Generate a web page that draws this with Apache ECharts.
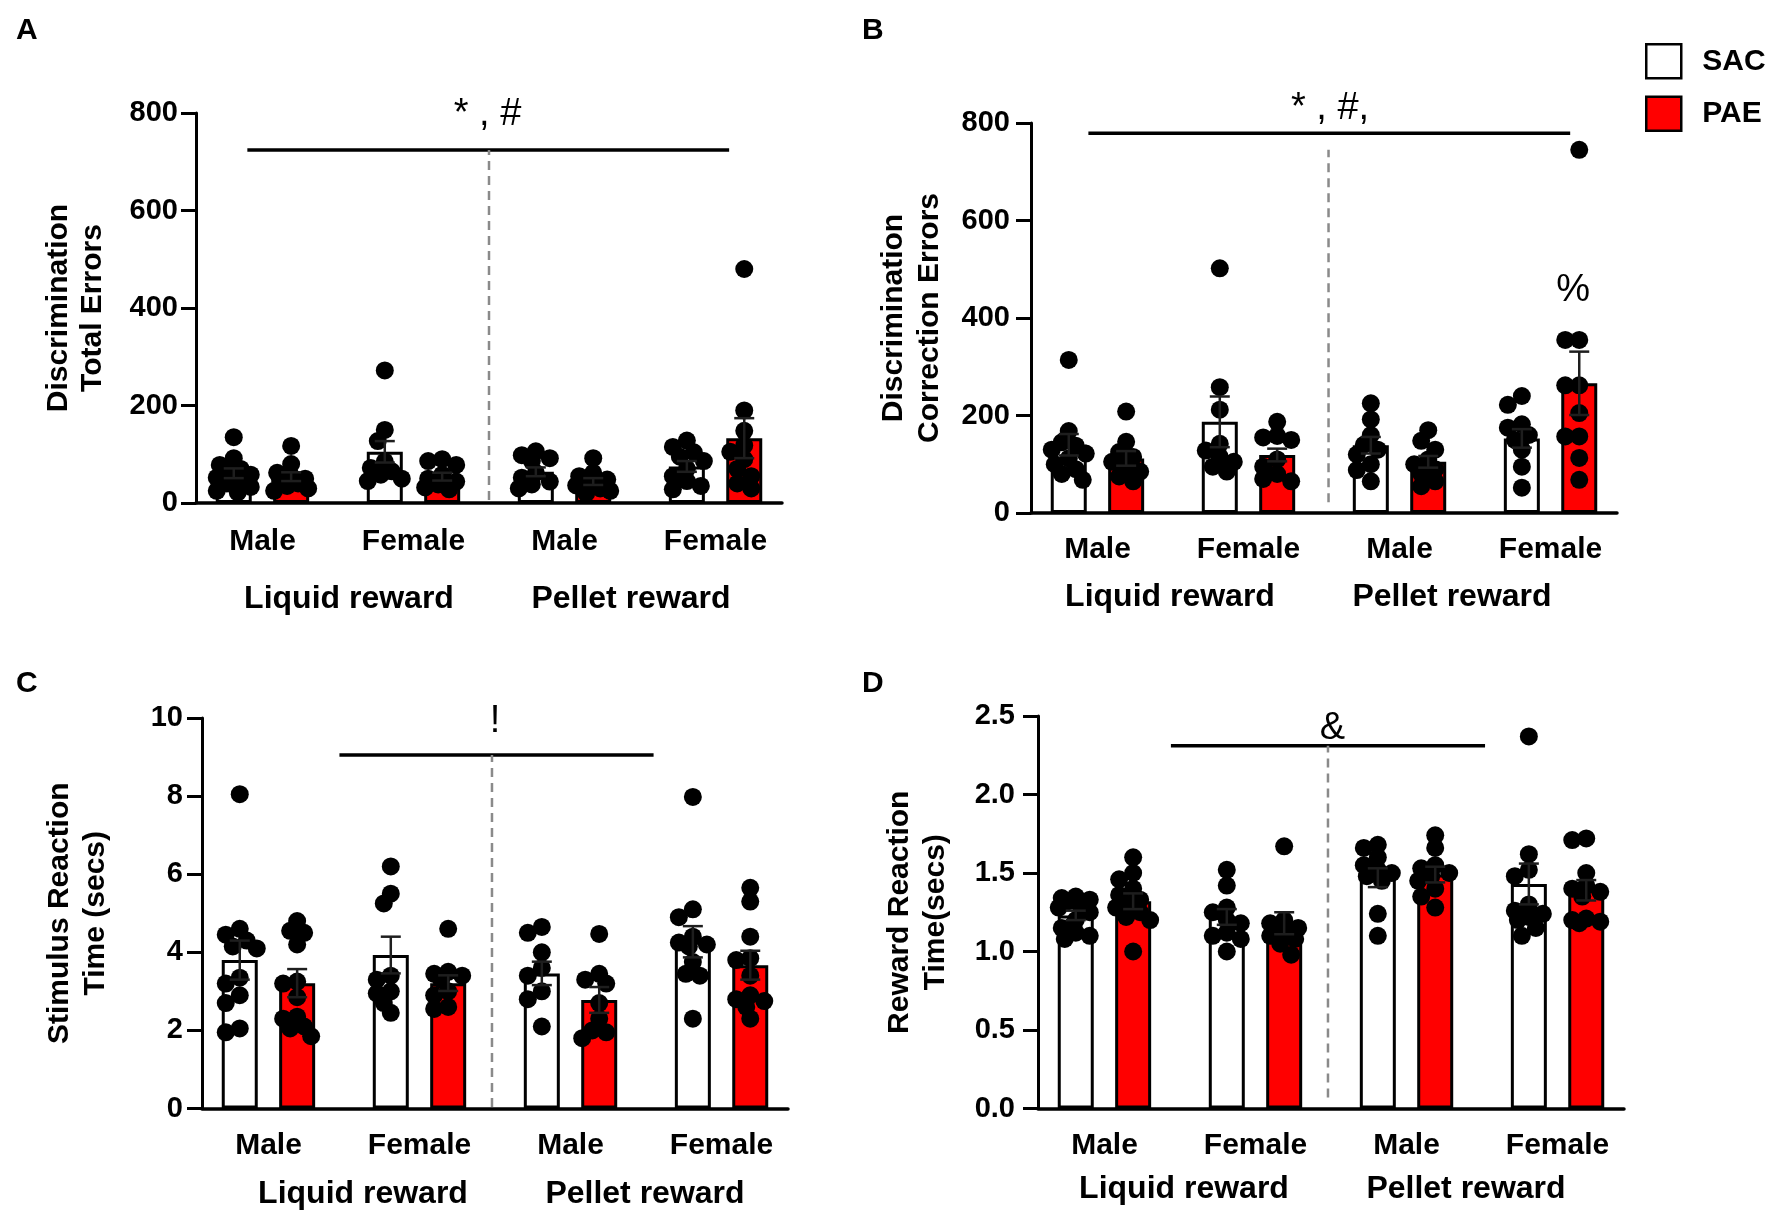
<!DOCTYPE html>
<html><head><meta charset="utf-8">
<script src="https://cdn.jsdelivr.net/npm/echarts@6/dist/echarts.min.js"></script>
<style>html,body{margin:0;padding:0;background:#fff}#c{width:1771px;height:1217px}</style>
</head><body><div id="c"></div>
<script>
// ---------- shared categories ----------
const groups = ['Male', 'Female', 'Male', 'Female'];
const rewards = ['Liquid reward', 'Pellet reward'];
const seriesNames = ['SAC', 'PAE'];

// ---------- Panel A : Discrimination total errors ----------
const A_yTicks = [0, 200, 400, 600, 800];
const A_sacMean = [61, 105, 64, 75];
const A_paeMean = [54, 54, 44, 133];
const A_sacSem = [10, 22, 9, 11];
const A_paeSem = [9, 8, 7, 41];
const A_sacPts = [
  [135, 92, 78, 70, 62, 58, 52, 46, 40, 33, 25, 22],
  [272, 150, 127, 85, 72, 65, 58, 50, 45],
  [106, 98, 92, 86, 62, 52, 44, 38, 30],
  [128, 115, 104, 95, 86, 70, 55, 45, 35, 28]
];
const A_paePts = [
  [117, 80, 62, 55, 50, 45, 40, 35, 30, 25],
  [90, 86, 78, 58, 50, 44, 38, 32, 28],
  [92, 62, 55, 48, 42, 36, 30, 25, 20],
  [480, 190, 148, 118, 105, 90, 70, 55, 40, 30]
];

// ---------- Panel B : Discrimination correction errors ----------
const B_yTicks = [0, 200, 400, 600, 800];
const B_sacMean = [140, 187, 139, 153];
const B_paeMean = [112, 119, 105, 266];
const B_sacSem = [22, 52, 17, 19];
const B_paeSem = [15, 13, 12, 65];
const B_sacPts = [
  [314, 168, 145, 138, 130, 122, 112, 100, 90, 80, 68],
  [502, 258, 212, 142, 128, 115, 105, 95, 85],
  [225, 192, 160, 140, 130, 120, 100, 88, 65],
  [240, 222, 182, 175, 160, 150, 130, 95, 52]
];
const B_paePts = [
  [208, 146, 125, 115, 105, 95, 85, 75, 65],
  [187, 158, 155, 150, 110, 95, 80, 70, 65],
  [170, 148, 130, 110, 100, 90, 80, 65, 55],
  [745, 355, 355, 262, 262, 205, 157, 157, 113, 68]
];

// ---------- Panel C : Stimulus reaction time ----------
const C_yTicks = [0, 2, 4, 6, 8, 10];
const C_sacMean = [3.80, 3.93, 3.46, 4.27];
const C_paeMean = [3.21, 3.21, 2.78, 3.67];
const C_sacSem = [0.5, 0.47, 0.3, 0.4];
const C_paeSem = [0.36, 0.2, 0.33, 0.37];
const C_sacPts = [
  [8.05, 4.6, 4.45, 4.3, 4.15, 4.1, 3.35, 3.2, 2.9, 2.7, 2.05, 1.95],
  [6.2, 5.5, 5.25, 3.4, 3.3, 3.0, 2.95, 2.7, 2.45],
  [4.65, 4.5, 4.0, 3.6, 3.4, 3.0, 2.8, 2.1],
  [7.98, 5.1, 4.9, 4.4, 4.25, 4.2, 4.15, 3.75, 3.45, 3.4, 2.3]
];
const C_paePts = [
  [4.8, 4.55, 4.5, 4.2, 3.25, 3.2, 2.85, 2.35, 2.3, 2.1, 2.05, 1.85],
  [4.6, 3.5, 3.45, 3.4, 3.3, 3.0, 2.9, 2.6, 2.55],
  [4.47, 3.45, 3.3, 3.2, 2.7, 2.3, 2.0, 1.95, 1.8],
  [5.65, 5.3, 4.4, 3.85, 3.8, 3.4, 2.9, 2.8, 2.75, 2.6, 2.3]
];

// ---------- Panel D : Reward reaction time ----------
const D_yTicks = [0, 0.5, 1.0, 1.5, 2.0, 2.5];
const D_sacMean = [1.23, 1.22, 1.47, 1.43];
const D_paeMean = [1.32, 1.18, 1.49, 1.39];
const D_sacSem = [0.03, 0.05, 0.06, 0.13];
const D_paeSem = [0.05, 0.07, 0.05, 0.065];
const D_sacPts = [
  [1.35, 1.34, 1.33, 1.32, 1.3, 1.28, 1.25, 1.2, 1.15, 1.12, 1.1, 1.08],
  [1.52, 1.42, 1.28, 1.25, 1.2, 1.18, 1.12, 1.08, 1.0, 1.1],
  [1.68, 1.66, 1.6, 1.55, 1.52, 1.5, 1.48, 1.45, 1.24, 1.1],
  [2.37, 1.62, 1.52, 1.48, 1.3, 1.26, 1.24, 1.22, 1.2, 1.15, 1.1]
];
const D_paePts = [
  [1.6, 1.5, 1.46, 1.4, 1.36, 1.33, 1.3, 1.28, 1.25, 1.22, 1.2, 1.0],
  [1.67, 1.2, 1.18, 1.15, 1.12, 1.1, 1.08, 1.05, 0.98],
  [1.74, 1.66, 1.55, 1.53, 1.5, 1.48, 1.45, 1.4, 1.35, 1.28],
  [1.72, 1.71, 1.5, 1.42, 1.4, 1.38, 1.35, 1.21, 1.2, 1.19, 1.18]
];

// ---------- annotations (data units: x = group index, y = axis value) ----------
const A_sig = { line: [-0.1, 724, 3.09, 724], texts: [['* , #', 1.49, 796]], divider: [1.5, 6, 1.5, 724] };
const B_sig = { line: [-0.06, 779, 3.13, 779], texts: [['* , #,', 1.54, 829], ['%', 3.15, 457]], divider: [1.53, 22, 1.53, 745] };
const C_sig = { line: [0.47, 9.05, 2.55, 9.05], texts: [['!', 1.5, 9.9]], divider: [1.48, 0.04, 1.48, 9.05] };
const D_sig = { line: [0.44, 2.31, 2.52, 2.31], texts: [['&', 1.51, 2.42]], divider: [1.48, 0.07, 1.48, 2.31] };

const panelLetters = ['A', 'B', 'C', 'D'];
const yTitles = ['Discrimination\nTotal Errors', 'Discrimination\nCorrection Errors', 'Stimulus Reaction\nTime (secs)', 'Reward Reaction\nTime(secs)'];

// ---------- layout (positions/styles only) ----------
const FONT = "'Liberation Sans', Arial, Helvetica, sans-serif";
const layout = [
  { axisX: 196, top: 113, h: 390, catMargin: 24, grpLeft: 208, grpMargin: 80, nameGap: 86, lh: 34, lblMargin: 18, letter: [11, 11], fmt: v => String(v) },
  { axisX: 1031, top: 123, h: 390, catMargin: 22, grpLeft: 1029, grpMargin: 68, nameGap: 83.5, lh: 36, lblMargin: 21, letter: [857, 11], fmt: v => String(v) },
  { axisX: 202, top: 718, h: 390.5, catMargin: 22, grpLeft: 222, grpMargin: 70, nameGap: 88, lh: 36, lblMargin: 19, letter: [11, 664], fmt: v => String(v) },
  { axisX: 1038, top: 716, h: 392.5, catMargin: 22, grpLeft: 1043, grpMargin: 65, nameGap: 84.5, lh: 36, lblMargin: 23, letter: [857, 664], fmt: v => v.toFixed(1) }
];
const panelData = [
  { ticks: A_yTicks, sm: A_sacMean, pm: A_paeMean, ss: A_sacSem, ps: A_paeSem, sp: A_sacPts, pp: A_paePts, sig: A_sig },
  { ticks: B_yTicks, sm: B_sacMean, pm: B_paeMean, ss: B_sacSem, ps: B_paeSem, sp: B_sacPts, pp: B_paePts, sig: B_sig },
  { ticks: C_yTicks, sm: C_sacMean, pm: C_paeMean, ss: C_sacSem, ps: C_paeSem, sp: C_sacPts, pp: C_paePts, sig: C_sig },
  { ticks: D_yTicks, sm: D_sacMean, pm: D_paeMean, ss: D_sacSem, ps: D_paeSem, sp: D_sacPts, pp: D_paePts, sig: D_sig }
];

const X_MIN = -0.44, X_MAX = 3.44, UNIT_PX = 151, AXIS_W = 586;
const OFF = 0.19;          // half distance between SAC and PAE bars (group units)
const DOT = 18;

// deterministic column-scatter layout (GraphPad-like)
function swarm(vals, center, pxPerY) {
  const cand = [0, -7, 7, -14, 14, -4, 4, -11, 11, -17, 17];
  const placed = [], out = [];
  const order = vals.map((v, i) => i).sort((a, b) => vals[b] - vals[a]);
  order.forEach(i => {
    const y = vals[i] * pxPerY;
    let best = 0, bestD = -1;
    for (const c of cand) {
      let md = Infinity;
      for (const p of placed) { const d = Math.hypot(p[0] - c, p[1] - y); if (d < md) md = d; }
      if (md >= 12) { best = c; break; }
      if (md > bestD) { bestD = md; best = c; }
    }
    placed.push([best, y]);
    out.push([center + best / UNIT_PX, vals[i]]);
  });
  return out;
}

function errRender(params, api) {
  const x = api.value(0), m = api.value(1), s = api.value(2);
  const t = api.coord([x, m + s]), b = api.coord([x, m - s]);
  const hw = 10, st = { stroke: '#1e1e1e', lineWidth: 2.5 };
  return { type: 'group', children: [
    { type: 'line', shape: { x1: t[0], y1: t[1], x2: b[0], y2: b[1] }, style: st },
    { type: 'line', shape: { x1: t[0] - hw, y1: t[1], x2: t[0] + hw, y2: t[1] }, style: st },
    { type: 'line', shape: { x1: b[0] - hw, y1: b[1], x2: b[0] + hw, y2: b[1] }, style: st }
  ] };
}
function lineRender(style) {
  return function (params, api) {
    const p0 = api.coord([api.value(0), api.value(1)]), p1 = api.coord([api.value(2), api.value(3)]);
    return { type: 'line', shape: { x1: p0[0], y1: p0[1], x2: p1[0], y2: p1[1] }, style: style };
  };
}
function textRender(texts) {
  return function (params, api) {
    const p = api.coord([api.value(0), api.value(1)]);
    return { type: 'text', x: p[0], y: p[1], style: { text: texts[params.dataIndex], font: "normal 38px " + FONT, fill: '#000', align: 'center', verticalAlign: 'middle' } };
  };
}

const grid = [], xAxis = [], yAxis = [], series = [], title = [];
layout.forEach((L, p) => {
  const D = panelData[p];
  const yMax = D.ticks[D.ticks.length - 1];
  const interval = D.ticks[1] - D.ticks[0];
  const pxPerY = L.h / yMax;
  const gMain = grid.length;
  grid.push({ left: L.axisX, top: L.top, width: AXIS_W, height: L.h, containLabel: false, outerBoundsMode: 'none' });
  grid.push({ left: L.axisX - 9, top: L.top, width: 604, height: L.h, containLabel: false, outerBoundsMode: 'none' });
  grid.push({ left: L.grpLeft, top: L.top, width: 564, height: L.h, containLabel: false, outerBoundsMode: 'none' });

  // main axes
  xAxis.push({ gridIndex: gMain, type: 'value', min: X_MIN, max: X_MAX,
    axisLine: { show: true, onZero: false, lineStyle: { color: '#000', width: 3.5 } },
    axisTick: { show: false }, axisLabel: { show: false }, splitLine: { show: false } });
  yAxis.push({ gridIndex: gMain, type: 'value', min: D.ticks[0], max: yMax, interval: interval,
    axisLine: { show: true, onZero: false, lineStyle: { color: '#000', width: 3 } },
    axisTick: { show: true, length: 15, lineStyle: { color: '#000', width: 3 } },
    axisLabel: { margin: L.lblMargin, color: '#000', fontSize: 29, fontWeight: 'bold', fontFamily: FONT, formatter: L.fmt },
    splitLine: { show: false },
    name: yTitles[p], nameLocation: 'middle', nameGap: L.nameGap,
    nameTextStyle: { color: '#000', fontSize: 30, fontWeight: 'bold', fontFamily: FONT, lineHeight: L.lh } });
  // category label axis
  xAxis.push({ gridIndex: gMain + 1, type: 'category', data: groups,
    axisLine: { show: false }, axisTick: { show: false }, splitLine: { show: false },
    axisLabel: { margin: L.catMargin, color: '#000', fontSize: 30, fontWeight: 'bold', fontFamily: FONT, interval: 0 } });
  yAxis.push({ gridIndex: gMain + 1, type: 'value', show: false, min: 0, max: 1 });
  // reward label axis
  xAxis.push({ gridIndex: gMain + 2, type: 'category', data: rewards,
    axisLine: { show: false }, axisTick: { show: false }, splitLine: { show: false },
    axisLabel: { margin: L.grpMargin, color: '#000', fontSize: 32, fontWeight: 'bold', fontFamily: FONT, interval: 0 } });
  yAxis.push({ gridIndex: gMain + 2, type: 'value', show: false, min: 0, max: 1 });

  const ax = { xAxisIndex: gMain, yAxisIndex: gMain };
  series.push(Object.assign({ type: 'bar', name: seriesNames[0], barWidth: 36, barGap: '-100%', z: 2,
    itemStyle: { color: '#ffffff', borderColor: '#000', borderWidth: 3 },
    data: D.sm.map((m, i) => [i - OFF, m]) }, ax));
  series.push(Object.assign({ type: 'bar', name: seriesNames[1], barWidth: 36, barGap: '-100%', z: 2,
    itemStyle: { color: '#ff0000', borderColor: '#000', borderWidth: 3 },
    data: D.pm.map((m, i) => [i + OFF, m]) }, ax));
  const pts = [];
  D.sp.forEach((arr, i) => pts.push(...swarm(arr, i - OFF, pxPerY)));
  D.pp.forEach((arr, i) => pts.push(...swarm(arr, i + OFF, pxPerY)));
  series.push(Object.assign({ type: 'scatter', name: 'points', symbol: 'circle', symbolSize: DOT, z: 3,
    itemStyle: { color: '#000', opacity: 1 }, data: pts }, ax));
  const errs = D.sm.map((m, i) => [i - OFF, m, D.ss[i]]).concat(D.pm.map((m, i) => [i + OFF, m, D.ps[i]]));
  series.push(Object.assign({ type: 'custom', name: 'sem', renderItem: errRender, z: 4, clip: false, data: errs }, ax));
  series.push(Object.assign({ type: 'custom', name: 'sigline', z: 5, clip: false,
    renderItem: lineRender({ stroke: '#000', lineWidth: 3.5 }), data: [D.sig.line] }, ax));
  series.push(Object.assign({ type: 'custom', name: 'divider', z: 5, clip: false,
    renderItem: lineRender({ stroke: '#8a8a8a', lineWidth: 2.5, lineDash: [9, 6] }), data: [D.sig.divider] }, ax));
  series.push(Object.assign({ type: 'custom', name: 'sigtext', z: 5, clip: false,
    renderItem: textRender(D.sig.texts.map(t => t[0])), data: D.sig.texts.map(t => [t[1], t[2]]) }, ax));

  title.push({ text: panelLetters[p], left: L.letter[0], top: L.letter[1],
    textStyle: { color: '#000', fontSize: 30, fontWeight: 'bold', fontFamily: FONT } });
});

const chart = echarts.init(document.getElementById('c'), null, { renderer: 'canvas' });
chart.setOption({
  backgroundColor: '#ffffff',
  animation: false,
  title: title,
  legend: { data: seriesNames, orient: 'vertical', left: 1645, top: 43, itemWidth: 35, itemHeight: 34, itemGap: 16,
    icon: 'rect', padding: 0,
    itemStyle: { borderColor: '#000', borderWidth: 2.5 },
    textStyle: { color: '#000', fontSize: 30, fontWeight: 'bold', fontFamily: FONT, padding: [0, 0, 0, 16] } },
  grid: grid, xAxis: xAxis, yAxis: yAxis, series: series
});
</script></body></html>
